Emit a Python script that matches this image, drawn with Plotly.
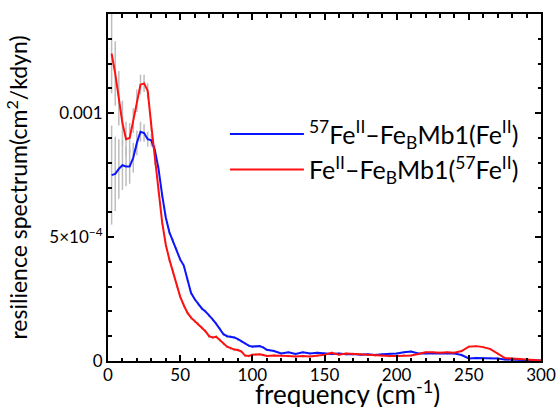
import plotly.graph_objects as go

# frequency grid (cm^-1)
freq = [2.5, 5, 7.5, 10, 12.5, 15, 17.5, 20, 22.5, 25, 27.5, 30, 32.5, 35, 37.5, 40,
        42.5, 45, 47.5, 50, 52.5, 55, 57.5, 60, 62.5, 65, 67.5, 70, 72.5, 75, 77.5, 80,
        82.5, 85, 87.5, 90, 92.5, 95, 97.5, 100, 102.5, 105, 107.5, 110,
        115, 120, 125, 130, 135, 140, 145, 150, 155, 160, 165, 170, 175, 180, 185, 190,
        195, 200, 205, 210, 215, 220, 225, 230, 235, 240, 245, 250, 255, 260, 265, 270,
        275, 280, 285, 290, 295, 300]

# 57Fe(II)-FeBMb1(Fe(II))  (blue)
blue_vals = [7.5e-4, 7.55e-4, 7.75e-4, 7.9e-4, 7.85e-4, 7.85e-4, 8.2e-4, 8.8e-4, 9.25e-4, 9.2e-4,
             8.95e-4, 8.9e-4, 8.5e-4, 7.75e-4, 6.7e-4, 5.8e-4, 5.2e-4, 4.85e-4, 4.5e-4, 4.1e-4,
             3.85e-4, 3.3e-4, 2.75e-4, 2.5e-4, 2.3e-4, 2.12e-4, 2.0e-4, 1.85e-4, 1.68e-4, 1.5e-4,
             1.3e-4, 1.08e-4, 1.0e-4, 0.98e-4, 0.95e-4, 0.88e-4, 0.8e-4, 0.72e-4, 0.62e-4, 0.58e-4,
             0.6e-4, 0.6e-4, 0.55e-4, 0.45e-4,
             0.4e-4, 0.3e-4, 0.35e-4, 0.28e-4, 0.35e-4, 0.3e-4, 0.33e-4, 0.3e-4, 0.28e-4, 0.3e-4,
             0.27e-4, 0.28e-4, 0.25e-4, 0.27e-4, 0.24e-4, 0.27e-4, 0.28e-4, 0.3e-4, 0.35e-4, 0.38e-4,
             0.3e-4, 0.31e-4, 0.31e-4, 0.31e-4, 0.3e-4, 0.3e-4, 0.24e-4, 0.1e-4, 0.12e-4, 0.12e-4,
             0.12e-4, 0.1e-4, 0.06e-4, 0.05e-4, 0.04e-4, 0.03e-4, 0.03e-4, 0.02e-4]
blue_err = [2.0e-4, 1.5e-4, 1.2e-4, 1.0e-4, 0.8e-4, 0.7e-4, 0.6e-4, 0.5e-4, 0.4e-4, 0.35e-4,
            0.3e-4, 0.25e-4, 0.2e-4, 0.15e-4, 0.12e-4, 0.1e-4, 0.1e-4, 0.09e-4, 0.09e-4, 0.08e-4,
            0.08e-4, 0.08e-4, 0.08e-4, 0.07e-4, 0.07e-4, 0.07e-4, 0.07e-4, 0.07e-4, 0.07e-4, 0.06e-4,
            0.06e-4, 0.06e-4, 0.06e-4, 0.06e-4, 0.06e-4, 0.06e-4, 0.06e-4, 0.05e-4, 0.05e-4, 0.05e-4,
            0.05e-4, 0.05e-4, 0.05e-4, 0.05e-4,
            0.05e-4, 0.05e-4, 0.05e-4, 0.05e-4, 0.05e-4, 0.05e-4, 0.05e-4, 0.05e-4, 0.05e-4, 0.05e-4,
            0.05e-4, 0.05e-4, 0.05e-4, 0.05e-4, 0.05e-4, 0.05e-4, 0.05e-4, 0.05e-4, 0.05e-4, 0.05e-4,
            0.05e-4, 0.05e-4, 0.05e-4, 0.05e-4, 0.05e-4, 0.05e-4, 0.05e-4, 0.05e-4, 0.05e-4, 0.05e-4,
            0.05e-4, 0.05e-4, 0.05e-4, 0.05e-4, 0.05e-4, 0.05e-4, 0.05e-4, 0.05e-4]

# Fe(II)-FeBMb1(57Fe(II))  (red)
red_vals = [12.4e-4, 11.6e-4, 10.6e-4, 9.6e-4, 8.95e-4, 9.0e-4, 9.7e-4, 10.5e-4, 11.15e-4, 11.2e-4,
            10.9e-4, 9.5e-4, 8.1e-4, 6.9e-4, 5.6e-4, 4.7e-4, 4.1e-4, 3.6e-4, 3.05e-4, 2.6e-4,
            2.25e-4, 1.95e-4, 1.75e-4, 1.62e-4, 1.5e-4, 1.35e-4, 1.2e-4, 1.0e-4, 0.95e-4, 0.98e-4,
            0.85e-4, 0.7e-4, 0.58e-4, 0.52e-4, 0.46e-4, 0.44e-4, 0.38e-4, 0.22e-4, 0.2e-4, 0.25e-4,
            0.27e-4, 0.27e-4, 0.24e-4, 0.2e-4,
            0.22e-4, 0.22e-4, 0.2e-4, 0.18e-4, 0.2e-4, 0.18e-4, 0.2e-4, 0.25e-4, 0.33e-4, 0.25e-4,
            0.3e-4, 0.28e-4, 0.26e-4, 0.25e-4, 0.22e-4, 0.2e-4, 0.2e-4, 0.2e-4, 0.22e-4, 0.22e-4,
            0.28e-4, 0.35e-4, 0.35e-4, 0.33e-4, 0.35e-4, 0.33e-4, 0.4e-4, 0.58e-4, 0.6e-4, 0.56e-4,
            0.48e-4, 0.3e-4, 0.12e-4, 0.1e-4, 0.08e-4, 0.06e-4, 0.04e-4, 0.02e-4]
red_err = [1.6e-4, 1.3e-4, 1.1e-4, 0.9e-4, 0.7e-4, 0.6e-4, 0.5e-4, 0.45e-4, 0.4e-4, 0.35e-4,
           0.3e-4, 0.25e-4, 0.2e-4, 0.15e-4, 0.12e-4, 0.1e-4, 0.1e-4, 0.09e-4, 0.09e-4, 0.08e-4,
           0.08e-4, 0.08e-4, 0.08e-4, 0.07e-4, 0.07e-4, 0.07e-4, 0.07e-4, 0.07e-4, 0.07e-4, 0.06e-4,
           0.06e-4, 0.06e-4, 0.06e-4, 0.06e-4, 0.06e-4, 0.06e-4, 0.06e-4, 0.05e-4, 0.05e-4, 0.05e-4,
           0.05e-4, 0.05e-4, 0.05e-4, 0.05e-4,
           0.05e-4, 0.05e-4, 0.05e-4, 0.05e-4, 0.05e-4, 0.05e-4, 0.05e-4, 0.05e-4, 0.05e-4, 0.05e-4,
           0.05e-4, 0.05e-4, 0.05e-4, 0.05e-4, 0.05e-4, 0.05e-4, 0.05e-4, 0.05e-4, 0.05e-4, 0.05e-4,
           0.05e-4, 0.05e-4, 0.05e-4, 0.05e-4, 0.05e-4, 0.05e-4, 0.05e-4, 0.05e-4, 0.05e-4, 0.05e-4,
           0.05e-4, 0.05e-4, 0.05e-4, 0.05e-4, 0.05e-4, 0.05e-4, 0.05e-4, 0.05e-4]

blue_name = "<sup>57</sup>Fe<sup>II</sup>–Fe<sub>B</sub>Mb1(Fe<sup>II</sup>)"
red_name = "Fe<sup>II</sup>–Fe<sub>B</sub>Mb1(<sup>57</sup>Fe<sup>II</sup>)"
x_title = "frequency (cm<sup>-1</sup>)"
y_title = "resilience spectrum(cm<sup>2</sup>/kdyn)"

x_tickvals = [0, 50, 100, 150, 200, 250, 300]
y_tickvals = [0, 5e-4, 1e-3]
y_ticktext = ["0", "5×10<sup>−4</sup>", "0.001"]

FONT = "Lato"

fig = go.Figure()

# gray error bars (drawn beneath curves)
for vals, err in [(blue_vals, blue_err), (red_vals, red_err)]:
    fig.add_trace(go.Scatter(
        x=freq, y=vals, mode="markers",
        marker=dict(size=1, color="rgba(0,0,0,0)"),
        error_y=dict(type="data", array=err, visible=True, color="#bdbdbd",
                     thickness=1.5, width=0),
        showlegend=False, hoverinfo="skip"))

fig.add_trace(go.Scatter(x=freq, y=blue_vals, mode="lines", name=blue_name,
                         line=dict(color="#0a14ff", width=2)))
fig.add_trace(go.Scatter(x=freq, y=red_vals, mode="lines", name=red_name,
                         line=dict(color="#ff1010", width=2)))

axis_common = dict(showline=True, linecolor="black", linewidth=2, mirror="allticks",
                   ticks="inside", tickcolor="black", tickwidth=1.5, showgrid=False,
                   zeroline=False, automargin=False,
                   tickfont=dict(family=FONT, size=17, color="black"))

fig.update_xaxes(range=[0, 300], tickvals=x_tickvals, ticklen=6, ticklabelstandoff=-2,
                 minor=dict(dtick=10, ticks="inside", ticklen=3.5, tickcolor="black",
                            tickwidth=1.5, showgrid=False),
                 **axis_common)
fig.update_yaxes(range=[0, 0.0014], tickvals=y_tickvals, ticktext=y_ticktext, ticklen=6,
                 minor=dict(dtick=1e-4, tick0=0, ticks="inside", ticklen=3.5, tickcolor="black",
                            tickwidth=1.5, showgrid=False),
                 title=dict(text=y_title,
                            font=dict(family=FONT, size=23, color="black")),
                 **axis_common)

# x-axis title (placed slightly right of centre, as in the original)
fig.add_annotation(text=x_title, xref="paper", yref="paper", x=0.552, y=-0.036,
                   xanchor="center", yanchor="top", showarrow=False,
                   font=dict(family=FONT, size=26, color="black"))

fig.update_layout(
    width=558, height=407,
    margin=dict(l=108, r=17, t=14, b=46),
    plot_bgcolor="white", paper_bgcolor="white",
    font=dict(family=FONT, color="black"),
    legend=dict(x=0.27, y=0.72, xanchor="left", yanchor="top",
                bgcolor="rgba(0,0,0,0)", font=dict(family=FONT, size=25, color="black"),
                tracegroupgap=0, itemwidth=74),
)

fig.write_html("out.html", config={"displayModeBar": False},
               post_script="document.body.style.margin='0';")
